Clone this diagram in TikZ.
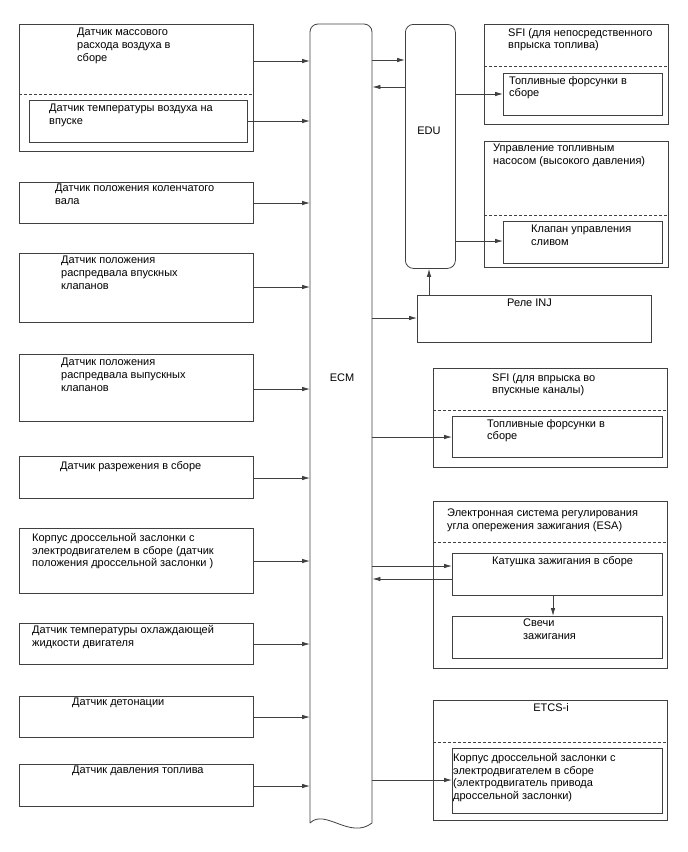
\documentclass[tikz,border=0pt]{standalone}
\usepackage{fontspec}
\setmainfont{Liberation Sans}
\usetikzlibrary{arrows.meta}
\definecolor{linec}{HTML}{404040}
\begin{document}
\begin{tikzpicture}[x=1pt,y=-1pt,
  box/.style={draw=linec,line width=0.8pt,inner sep=0pt,anchor=north west,rectangle},
  rbox/.style={box,rounded corners=8pt},
  dsh/.style={draw=linec,line width=0.8pt,dash pattern=on 3pt off 2pt},
  arr/.style={draw=linec,line width=0.8pt,-{Latex[length=8pt,width=4.5pt]}},
  txt/.style={inner sep=0pt,anchor=north west,align=left,yshift=-1.5pt,font=\fontsize{11}{12.8}\selectfont},
  ctxt/.style={inner sep=0pt,anchor=center,font=\fontsize{11}{12.8}\selectfont}]
\useasboundingbox (0,0) rectangle (688,852);
% ---------- left sensors ----------
\node[box,minimum width=234,minimum height=127] (maf) at (19,24) {};
\draw[dsh] (maf.west |- 0,94) -- (maf.east |- 0,94);
\node[box,minimum width=218,minimum height=42] (iat) at (29,100) {};
\node[box,minimum width=234,minimum height=41] (ckp) at (19,182) {};
\node[box,minimum width=234,minimum height=69] (icam) at (19,253) {};
\node[box,minimum width=234,minimum height=67] (ecam) at (19,354) {};
\node[box,minimum width=234,minimum height=42] (vac) at (19,456) {};
\node[box,minimum width=234,minimum height=65] (thr) at (19,528) {};
\node[box,minimum width=234,minimum height=41] (ect) at (19,623) {};
\node[box,minimum width=234,minimum height=41] (knk) at (19,696) {};
\node[box,minimum width=234,minimum height=42] (fps) at (19,764) {};

\node[txt] (tmaf) at (77,26.5) {Датчик массового\\расхода воздуха в\\сборе};
\node[txt] (tiat) at (49,102.5) {Датчик температуры воздуха на\\впуске};
\node[txt] (tckp) at (55,182.5) {Датчик положения коленчатого\\вала};
\node[txt] (ticam) at (61,254.5) {Датчик положения\\распредвала впускных\\клапанов};
\node[txt] (tecam) at (61,356.5) {Датчик положения\\распредвала выпускных\\клапанов};
\node[txt] (tvac) at (60,459.5) {Датчик разрежения в сборе};
\node[txt] (tthr) at (32,531.5) {Корпус дроссельной заслонки с\\электродвигателем в сборе (датчик\\положения дроссельной заслонки )};
\node[txt] (tect) at (32,623.5) {Датчик температуры охлаждающей\\жидкости двигателя};
\node[txt] (tknk) at (72,696.5) {Датчик детонации};
\node[txt] (tfps) at (72,764.5) {Датчик давления топлива};

% ---------- ECM ----------
\node[minimum width=62,minimum height=799,inner sep=0pt,anchor=north west] (ecm) at (310,24) {};
\draw[linec,line width=0.8pt] (310,823) -- (310,32) arc[start angle=180,end angle=90,radius=8pt]
  -- (364,24) arc[start angle=90,end angle=0,radius=8pt] -- (372,823)
  .. controls (350,840) and (325,808) .. (310,823);
\node[ctxt] (tecm) at (342,378) {ECM};

% ---------- EDU ----------
\node[rbox,minimum width=50,minimum height=244] (edu) at (405,24) {};
\node[ctxt] (tedu) at (429,131) {EDU};

% ---------- right side ----------
\node[box,minimum width=184,minimum height=100] (sfid) at (484,24) {};
\draw[dsh] (sfid.west |- 0,66) -- (sfid.east |- 0,66);
\node[box,minimum width=159,minimum height=42] (inj1) at (503,73) {};
\node[txt] (tsfid) at (508,26.5) {SFI (для непосредственного\\впрыска топлива)};
\node[txt] (tinj1) at (509,74.5) {Топливные форсунки в\\сборе};

\node[box,minimum width=184,minimum height=126] (pump) at (484,141) {};
\draw[dsh] (pump.west |- 0,215) -- (pump.east |- 0,215);
\node[box,minimum width=159,minimum height=42] (scv) at (503,221) {};
\node[txt] (tpump) at (493,142.5) {Управление топливным\\насосом (высокого давления)};
\node[txt] (tscv) at (531,223.5) {Клапан управления\\сливом};

\node[box,minimum width=234,minimum height=47] (rel) at (417,295) {};
\node[txt] (trel) at (507,297.5) {Реле INJ};

\node[box,minimum width=234,minimum height=99] (sfip) at (433,368) {};
\draw[dsh] (sfip.west |- 0,410) -- (sfip.east |- 0,410);
\node[box,minimum width=210,minimum height=41] (inj2) at (452,416) {};
\node[txt] (tsfip) at (492,371.5) {SFI (для впрыска во\\впускные каналы)};
\node[txt] (tinj2) at (487,417.5) {Топливные форсунки в\\сборе};

\node[box,minimum width=234,minimum height=167] (esa) at (433,501) {};
\draw[dsh] (esa.west |- 0,542) -- (esa.east |- 0,542);
\node[box,minimum width=210,minimum height=42] (coil) at (452,553) {};
\node[box,minimum width=210,minimum height=42] (plug) at (452,616) {};
\node[txt] (tesa) at (447,507.5) {Электронная система регулирования\\угла опережения зажигания (ESA)};
\node[txt] (tcoil) at (492,554.5) {Катушка зажигания в сборе};
\node[txt] (tplug) at (523,617.5) {Свечи\\зажигания};

\node[box,minimum width=234,minimum height=120] (etcs) at (433,700) {};
\draw[dsh] (etcs.west |- 0,742) -- (etcs.east |- 0,742);
\node[box,minimum width=210,minimum height=65] (etm) at (452,748) {};
\node[ctxt] (tetcs) at (551,708) {ETCS-i};
\node[txt] (tetm) at (453,751.5) {Корпус дроссельной заслонки с\\электродвигателем в сборе\\(электродвигатель привода\\дроссельной заслонки)};

% ---------- connectors ----------
\draw[arr] (maf.east |- 0,61) -- (ecm.west |- 0,61);
\draw[arr] (iat.east |- 0,121) -- (ecm.west |- 0,121);
\draw[arr] (ckp.east |- 0,203) -- (ecm.west |- 0,203);
\draw[arr] (icam.east |- 0,287) -- (ecm.west |- 0,287);
\draw[arr] (ecam.east |- 0,389) -- (ecm.west |- 0,389);
\draw[arr] (vac.east |- 0,478) -- (ecm.west |- 0,478);
\draw[arr] (thr.east |- 0,561) -- (ecm.west |- 0,561);
\draw[arr] (ect.east |- 0,644) -- (ecm.west |- 0,644);
\draw[arr] (knk.east |- 0,717) -- (ecm.west |- 0,717);
\draw[arr] (fps.east |- 0,786) -- (ecm.west |- 0,786);

\draw[arr] (ecm.east |- 0,60) -- (edu.west |- 0,60);
\draw[arr] (edu.west |- 0,87) -- (ecm.east |- 0,87);
\draw[arr] (edu.east |- 0,94) -- (inj1.west |- 0,94);
\draw[arr] (edu.east |- 0,241) -- (scv.west |- 0,241);
\draw[arr] (ecm.east |- 0,318) -- (rel.west |- 0,318);
\draw[arr] (rel.north -| 429,0) -- (edu.south -| 429,0);
\draw[arr] (ecm.east |- 0,437) -- (inj2.west |- 0,437);
\draw[arr] (ecm.east |- 0,566) -- (coil.west |- 0,566);
\draw[arr] (coil.west |- 0,579) -- (ecm.east |- 0,579);
\draw[arr] (coil.south -| 553,0) -- (plug.north -| 553,0);
\draw[arr] (ecm.east |- 0,780) -- (etm.west |- 0,780);
\end{tikzpicture}
\end{document}
